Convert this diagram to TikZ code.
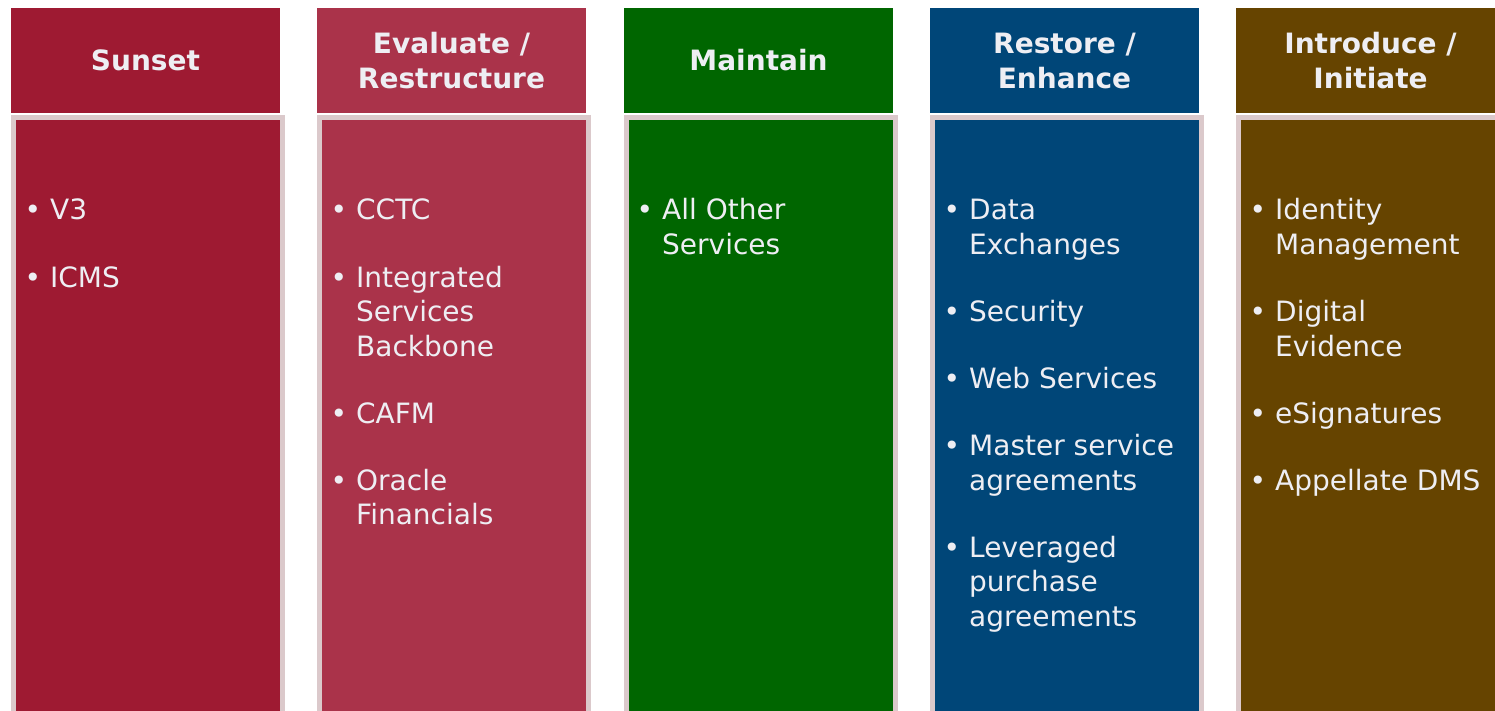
\documentclass[tikz,border=0pt]{standalone}
\usepackage{fontspec}
\setmainfont{DejaVu Sans}
\usetikzlibrary{positioning}

\definecolor{sunset}{RGB}{158,26,50}
\definecolor{evaluate}{RGB}{170,51,74}
\definecolor{maintain}{RGB}{0,102,0}
\definecolor{restore}{RGB}{0,70,120}
\definecolor{introduce}{RGB}{102,68,0}
\definecolor{bordergray}{RGB}{219,201,203}
\definecolor{lighttext}{RGB}{238,238,243}

\begin{document}
\begin{tikzpicture}[x=1pt,y=-1pt,
	head/.style={minimum width=269pt,minimum height=105pt,inner sep=0pt,text=lighttext,align=center,font=\fontsize{28}{35}\selectfont\bfseries},
	body/.style={draw=bordergray,line width=5pt,minimum width=269pt,minimum height=610pt,anchor=north west,inner sep=0pt},
	item/.style={inner sep=0pt,anchor=base west,text=lighttext,align=left,font=\fontsize{28}{34.5}\selectfont}]

	\useasboundingbox (0,0) rectangle (1495,711);

	% column boxes
	\foreach \x/\col/\name in {11/sunset/1, 317/evaluate/2, 624/maintain/3, 930/restore/4, 1236/introduce/5}{
		\node[body, fill=\col] (B\name) at (\x,115.5) {};
	}

	% headers
	\node[head, fill=sunset] (H1) at (145.5,60.5) {Sunset};
	\node[head, fill=evaluate] (H2) at (451.5,60.5) {Evaluate /\\Restructure};
	\node[head, fill=maintain] (H3) at (758.5,60.5) {Maintain};
	\node[head, fill=restore] (H4) at (1064.5,60.5) {Restore /\\Enhance};
	\node[head, fill=introduce] (H5) at (1370.5,60.5) {Introduce /\\Initiate};

	% items: the y given is the baseline of the last line
	% Sunset
	\node[item] (V3) at (50,220) {\llap{\textbullet\hspace{9pt}}V3};
	\node[item] (ICMS) at (50,287) {\llap{\textbullet\hspace{9pt}}ICMS};

	% Evaluate / Restructure
	\node[item] (CCTC) at (356,220) {\llap{\textbullet\hspace{9pt}}CCTC};
	\node[item] (ISB) at (356,356) {\llap{\textbullet\hspace{9pt}}Integrated\\Services\\Backbone};
	\node[item] (CAFM) at (356,423) {\llap{\textbullet\hspace{9pt}}CAFM};
	\node[item] (OF) at (356,524.5) {\llap{\textbullet\hspace{9pt}}Oracle\\Financials};

	% Maintain
	\node[item] (AOS) at (662,254.5) {\llap{\textbullet\hspace{9pt}}All Other\\Services};

	% Restore / Enhance
	\node[item] (DE) at (969,254.5) {\llap{\textbullet\hspace{9pt}}Data\\Exchanges};
	\node[item] (Sec) at (969,321.5) {\llap{\textbullet\hspace{9pt}}Security};
	\node[item] (WS) at (969,388.5) {\llap{\textbullet\hspace{9pt}}Web Services};
	\node[item] (MSA) at (969,490) {\llap{\textbullet\hspace{9pt}}Master service\\agreements};
	\node[item] (LPA) at (969,626) {\llap{\textbullet\hspace{9pt}}Leveraged\\purchase\\agreements};

	% Introduce / Initiate
	\node[item] (IM) at (1275,254.5) {\llap{\textbullet\hspace{9pt}}Identity\\Management};
	\node[item] (DEv) at (1275,356) {\llap{\textbullet\hspace{9pt}}Digital\\Evidence};
	\node[item] (eSig) at (1275,423) {\llap{\textbullet\hspace{9pt}}eSignatures};
	\node[item] (ADMS) at (1275,490) {\llap{\textbullet\hspace{9pt}}Appellate DMS};
\end{tikzpicture}
\end{document}
